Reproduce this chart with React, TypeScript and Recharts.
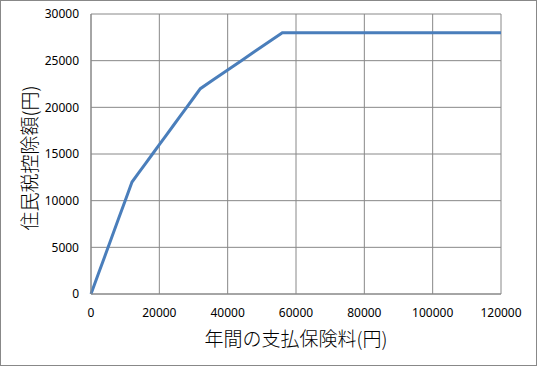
import { LineChart, Line, XAxis, YAxis, CartesianGrid } from 'recharts';

// 年間の支払保険料 (円)
const premiums = [
  0, 2000, 4000, 6000, 8000, 10000, 12000, 14000, 16000, 18000, 20000, 22000, 24000,
  26000, 28000, 30000, 32000, 36000, 40000, 44000, 48000, 52000, 56000, 60000, 80000,
  100000, 120000
];

// 住民税控除額 (円)
const deductions = [
  0, 2000, 4000, 6000, 8000, 10000, 12000, 13000, 14000, 15000, 16000, 17000, 18000,
  19000, 20000, 21000, 22000, 23000, 24000, 25000, 26000, 27000, 28000, 28000, 28000,
  28000, 28000
];

const xTicks = [0, 20000, 40000, 60000, 80000, 100000, 120000];
const yTicks = [0, 5000, 10000, 15000, 20000, 25000, 30000];

const data = premiums.map((p, i) => ({ premium: p, deduction: deductions[i] }));

const tickStyle = { fontSize: 12, fill: '#000', fontFamily: '"Noto Sans", sans-serif' };
const titleFont = '"Noto Sans CJK JP", sans-serif';

export default function App() {
  return (
    <div
      style={{
        position: 'absolute',
        left: 0,
        top: 0,
        width: 537,
        height: 366,
        border: '1px solid #888',
        boxSizing: 'border-box',
        background: '#fff'
      }}
    >
      <LineChart
        width={535}
        height={364}
        data={data}
        margin={{ top: 13, right: 35, bottom: 0, left: 0 }}
      >
        <CartesianGrid stroke="#888" strokeWidth={1} />
        <XAxis
          dataKey="premium"
          type="number"
          domain={[0, 120000]}
          ticks={xTicks}
          height={71}
          stroke="#888"
          tickLine={false}
          tickSize={0}
          tickMargin={14}
          tick={tickStyle}
          interval={0}
          label={{
            value: '年間の支払保険料(円)',
            position: 'insideBottom',
            offset: 19,
            style: { fontSize: 19, fontWeight: 300, fill: '#000', fontFamily: titleFont }
          }}
        />
        <YAxis
          type="number"
          domain={[0, 30000]}
          ticks={yTicks}
          width={90}
          stroke="#888"
          tickLine={false}
          tickSize={0}
          tickMargin={12}
          tick={tickStyle}
          interval={0}
          label={{
            value: '住民税控除額(円)',
            angle: -90,
            position: 'insideLeft',
            offset: 29,
            dy: 4,
            style: {
              fontSize: 19,
              fontWeight: 300,
              fill: '#000',
              fontFamily: titleFont,
              textAnchor: 'middle'
            }
          }}
        />
        <Line
          type="linear"
          dataKey="deduction"
          stroke="#4a7ebb"
          strokeWidth={3}
          dot={false}
          isAnimationActive={false}
        />
      </LineChart>
    </div>
  );
}
